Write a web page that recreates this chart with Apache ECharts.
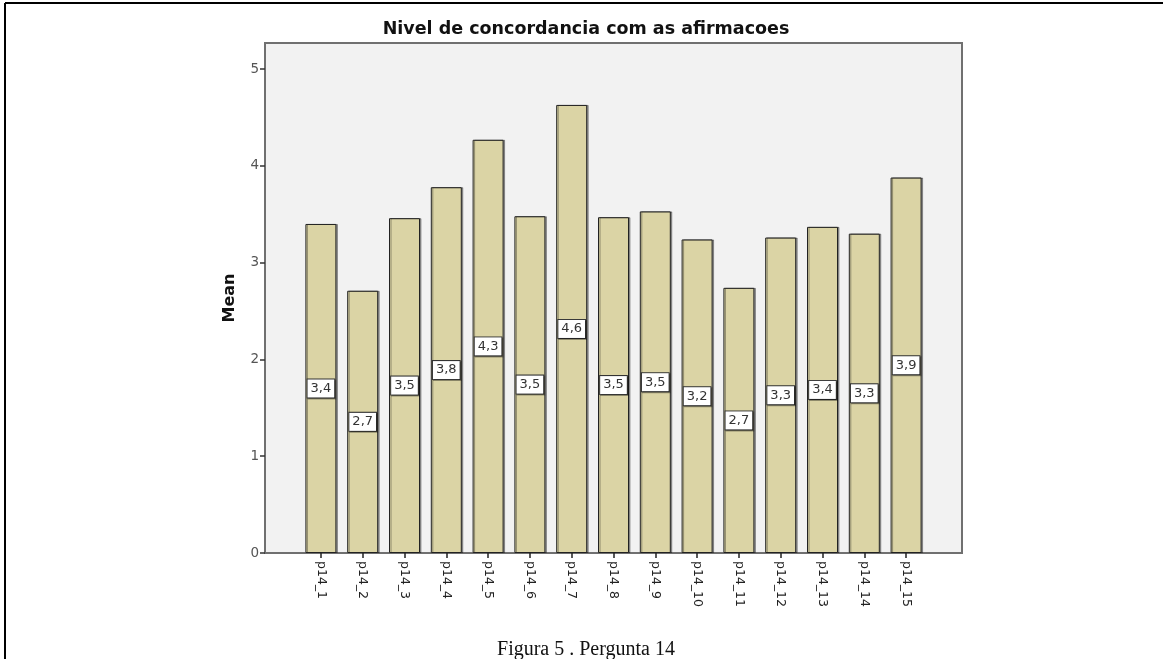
<!DOCTYPE html>
<html>
<head>
<meta charset="utf-8">
<script src="https://cdn.jsdelivr.net/npm/echarts@6/dist/echarts.min.js"></script>
<style>
  html, body { margin: 0; padding: 0; background: #fff; }
  #chart { width: 1163px; height: 659px; }
</style>
</head>
<body>
<div id="chart"></div>
<script>
// Mean agreement level for each statement of question 14
const categories = ['p14_1', 'p14_2', 'p14_3', 'p14_4', 'p14_5', 'p14_6', 'p14_7', 'p14_8',
                    'p14_9', 'p14_10', 'p14_11', 'p14_12', 'p14_13', 'p14_14', 'p14_15'];
const means = [3.40, 2.71, 3.46, 3.78, 4.27, 3.48, 4.63, 3.47, 3.53, 3.24, 2.74, 3.26, 3.37, 3.30, 3.88];
const yTicks = [0, 1, 2, 3, 4, 5];

const titleText = 'Nivel de concordancia com as afirmacoes';
const captionText = 'Figura 5 . Pergunta 14';

const Y_MAX = 5.27;

const chart = echarts.init(document.getElementById('chart'));

chart.setOption({
  animation: false,
  backgroundColor: '#ffffff',
  grid: [
    // plot frame with the value axis
    { left: 265, right: 201, top: 43, bottom: 106, show: true,
      backgroundColor: '#f2f2f2', borderColor: '#707070', borderWidth: 2 },
    // inner band holding the bars
    { left: 300, right: 236, top: 43, bottom: 106 }
  ],
  xAxis: [
    { gridIndex: 0, type: 'category', data: categories, show: false },
    { gridIndex: 1, type: 'category', data: categories,
      axisLine: { show: false },
      axisTick: { show: true, alignWithLabel: true, length: 5, lineStyle: { color: '#222', width: 1.5 } },
      axisLabel: { rotate: -90, margin: 8, fontSize: 12.5, color: '#222',
                   fontFamily: 'DejaVu Sans', interval: 0 } }
  ],
  yAxis: [
    { gridIndex: 0, type: 'value', min: 0, max: Y_MAX,
      name: 'Mean', nameLocation: 'middle', nameGap: 27, nameRotate: 90,
      nameTextStyle: { fontSize: 16, fontWeight: 'bold', color: '#111', fontFamily: 'DejaVu Sans' },
      axisLine: { show: false },
      splitLine: { show: false },
      axisTick: { show: true, length: 5, customValues: yTicks, lineStyle: { color: '#333', width: 1.5 } },
      axisLabel: { customValues: yTicks, margin: 6, fontSize: 13.5, color: '#555', fontFamily: 'DejaVu Sans' } },
    { gridIndex: 1, type: 'value', min: 0, max: Y_MAX, show: false, splitLine: { show: false } }
  ],
  series: [{
    type: 'bar',
    xAxisIndex: 1,
    yAxisIndex: 1,
    data: means,
    barWidth: 31,
    itemStyle: {
      color: '#dbd4a5',
      borderColor: '#222',
      borderWidth: 1,
      shadowColor: 'rgba(0,0,0,0.35)',
      shadowOffsetX: 1.5,
      shadowOffsetY: 0,
      shadowBlur: 0
    },
    label: {
      show: true,
      position: 'inside',
      formatter: p => p.value.toFixed(1).replace('.', ','),
      fontSize: 13,
      color: '#333',
      fontFamily: 'DejaVu Sans',
      backgroundColor: '#ffffff',
      borderColor: '#333',
      borderWidth: 1,
      padding: [3, 3, 2, 3],
      shadowColor: 'rgba(0,0,0,0.35)',
      shadowOffsetX: 1,
      shadowOffsetY: 1
    }
  }],
  graphic: [
    { type: 'line', shape: { x1: 5, y1: 3, x2: 1163, y2: 3 }, style: { stroke: '#000', lineWidth: 2 } },
    { type: 'line', shape: { x1: 5, y1: 3, x2: 5, y2: 659 }, style: { stroke: '#000', lineWidth: 2 } },
    { type: 'text', x: 586, y: 29,
      style: { text: titleText, textAlign: 'center', textVerticalAlign: 'middle',
               font: 'bold 17.5px "DejaVu Sans"', fill: '#111' } },
    { type: 'text', x: 586, y: 650,
      style: { text: captionText, textAlign: 'center', textVerticalAlign: 'middle',
               font: '20px "Liberation Serif"', fill: '#111' } }
  ]
});
</script>
</body>
</html>
